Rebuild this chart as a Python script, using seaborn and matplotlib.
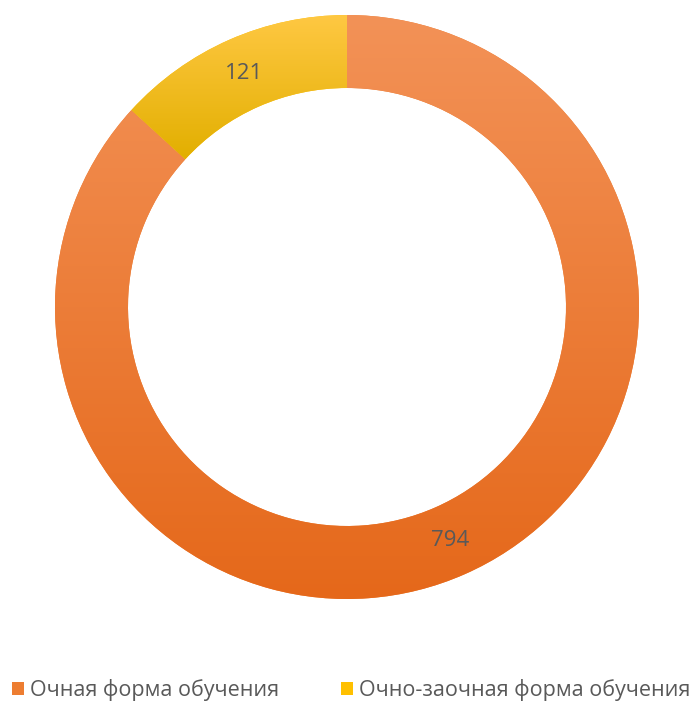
import numpy as np
import seaborn as sns
import matplotlib.pyplot as plt
from matplotlib.colors import LinearSegmentedColormap

categories = ["Очная форма обучения", "Очно-заочная форма обучения"]
values = [794, 121]
base_colors = ["#ED7D31", "#FFC000"]
grad_top = ["#F39257", "#FFC843"]
grad_bottom = ["#E5681A", "#E2AF00"]

sns.set_theme(style="white")
plt.rcParams['font.family'] = ['Open Sans', 'DejaVu Sans']

fig = plt.figure(figsize=(6.93, 7.02), dpi=100)
cx, cy, r = 347, 307, 292
ax = fig.add_axes([(cx - r) / 693, (702 - cy - r) / 702, 2 * r / 693, 2 * r / 702])

wedges, texts, autotexts = ax.pie(
    values, colors=base_colors, startangle=90, counterclock=False,
    radius=1.0, wedgeprops=dict(width=0.25, edgecolor="none"),
    autopct=lambda p: f"{round(p * sum(values) / 100):d}", pctdistance=0.875,
    textprops=dict(color="#595959", fontsize=16),
)
ax.set_xlim(-1, 1)
ax.set_ylim(-1, 1)
ax.set_aspect("equal")
ax.axis("off")

# vertical gradient inside each wedge
grad = np.linspace(0, 1, 256).reshape(-1, 1)
for w, top, bot in zip(wedges, grad_top, grad_bottom):
    ext = w.get_path().get_extents()
    cmap = LinearSegmentedColormap.from_list("g", [bot, top])
    im = ax.imshow(grad, cmap=cmap, origin="lower", aspect="auto",
                   extent=[ext.x0, ext.x1, ext.y0, ext.y1], zorder=w.get_zorder() + 0.1)
    im.set_clip_path(w)
for t in autotexts:
    t.set_zorder(5)
ax.set_xlim(-1, 1)
ax.set_ylim(-1, 1)

fig.legend(wedges, categories, loc="center", ncol=2, frameon=False,
           bbox_to_anchor=(0.507, 1 - 690 / 702), fontsize=15.5, labelcolor="#595959",
           handlelength=0.55, handleheight=0.55, handletextpad=0.3, columnspacing=2.85,
           borderpad=0, borderaxespad=0)

fig.savefig("out.png", dpi=100)
